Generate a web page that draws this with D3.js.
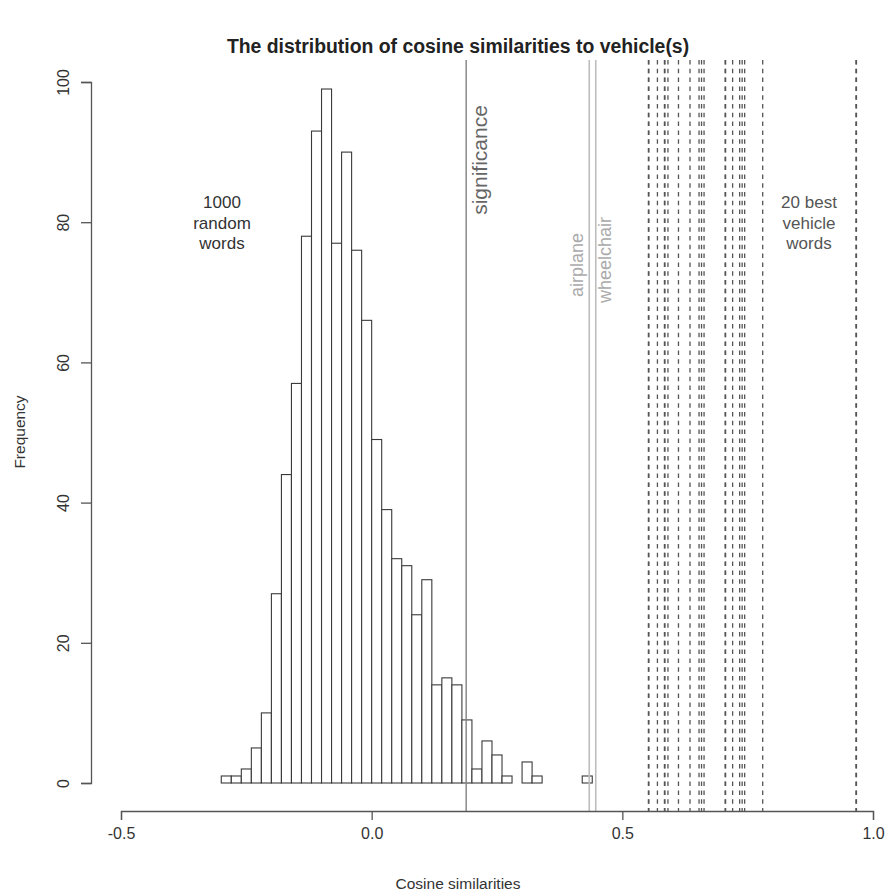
<!DOCTYPE html>
<html>
<head>
<meta charset="utf-8">
<script src="https://cdn.jsdelivr.net/npm/d3@7"></script>
<style>
  body { margin: 0; background: #fff; }
  svg { display: block; }
</style>
</head>
<body>
<svg id="svg" width="888" height="893"></svg>
<script>
// histogram of 1000 random words (bin lower edges, bin width 0.02)
const binLefts = [-0.30, -0.28, -0.26, -0.24, -0.22, -0.20, -0.18, -0.16, -0.14, -0.12,
  -0.10, -0.08, -0.06, -0.04, -0.02, 0.00, 0.02, 0.04, 0.06, 0.08,
  0.10, 0.12, 0.14, 0.16, 0.18, 0.20, 0.22, 0.24, 0.26, 0.28,
  0.30, 0.32, 0.34, 0.36, 0.38, 0.40, 0.42]
const counts = [1, 1, 2, 5, 10, 27, 44, 57, 78, 93,
  99, 77, 90, 76, 66, 49, 39, 32, 31, 24,
  29, 14, 15, 14, 9, 2, 6, 4, 1, 0,
  3, 1, 0, 0, 0, 0, 1]
const binWidth = 0.02

// reference lines
const significance = 0.1885
const namedWords = [{ name: "airplane", value: 0.434 }, { name: "wheelchair", value: 0.447 }]
const bestVehicle = [0.552, 0.553, 0.570, 0.584, 0.585, 0.591, 0.612, 0.635, 0.653, 0.658,
  0.663, 0.705, 0.706, 0.720, 0.734, 0.739, 0.744, 0.780, 0.966, 0.967]

const xTicks = [-0.5, 0.0, 0.5, 1.0]
const yTicks = [0, 20, 40, 60, 80, 100]

const svg = d3.select("#svg")
    .attr("font-family", "'Liberation Sans', Arial, sans-serif")

const x = d3.scaleLinear().domain([-0.5, 1.0]).range([121, 873])
const y = d3.scaleLinear().domain([0, 100]).range([783, 82])
const plotTop = 60, plotBottom = 811

// bars
svg.append("g").selectAll("rect")
    .data(counts)
    .enter()
    .append("rect")
    .attr("x", (d, i) => x(binLefts[i]))
    .attr("width", (d, i) => x(binLefts[i] + binWidth) - x(binLefts[i]))
    .attr("y", d => y(d))
    .attr("height", d => y(0) - y(d))
    .attr("fill", "white")
    .attr("stroke", d => d > 0 ? "#3a3a3a" : "none")
    .attr("stroke-width", 1.1)

// significance line
svg.append("line")
    .attr("x1", x(significance)).attr("x2", x(significance))
    .attr("y1", plotTop).attr("y2", plotBottom)
    .attr("stroke", "#808080").attr("stroke-width", 1.4)
svg.append("text")
    .attr("transform", `translate(${x(significance) + 21},160) rotate(-90)`)
    .attr("text-anchor", "middle")
    .attr("font-size", 21)
    .attr("fill", "#666")
    .text("significance")

// named words
const nw = svg.append("g").selectAll("g").data(namedWords).enter().append("g")
nw.append("line")
    .attr("x1", d => x(d.value)).attr("x2", d => x(d.value))
    .attr("y1", plotTop).attr("y2", plotBottom)
    .attr("stroke", "#bdbdbd").attr("stroke-width", 1.6)
nw.append("text")
    .attr("transform", (d, i) => `translate(${x(d.value) + (i == 0 ? -6 : 15)},${i == 0 ? 265 : 260}) rotate(-90)`)
    .attr("text-anchor", "middle")
    .attr("font-size", 18)
    .attr("fill", "#aaa")
    .text(d => d.name)

// best vehicle words
svg.append("g").selectAll("line")
    .data(bestVehicle)
    .enter()
    .append("line")
    .attr("x1", d => x(d)).attr("x2", d => x(d))
    .attr("y1", plotTop).attr("y2", plotBottom)
    .attr("stroke", "#555")
    .attr("stroke-width", 1.3)
    .attr("stroke-dasharray", "4.5,4.3")

// annotations
function block(lines, cx, color) {
    svg.append("g").selectAll("text")
        .data(lines)
        .enter()
        .append("text")
        .attr("x", cx)
        .attr("y", (d, i) => 208 + i * 20.5)
        .attr("text-anchor", "middle")
        .attr("font-size", 17)
        .attr("fill", color)
        .text(d => d)
}
block(["1000", "random", "words"], 222, "#333")
block(["20 best", "vehicle", "words"], 809, "#555")

// axes
const xAxis = svg.append("g").attr("transform", `translate(0,${plotBottom})`)
    .call(d3.axisBottom(x).tickValues(xTicks).tickFormat(d => d.toFixed(1)).tickSizeOuter(0).tickSize(9).tickPadding(8))
xAxis.select(".domain").attr("stroke", "#555").attr("stroke-width", 1.3)
xAxis.selectAll(".tick line").attr("stroke", "#555").attr("stroke-width", 1.3)
xAxis.selectAll("text").attr("font-size", 16).attr("fill", "#333").attr("font-family", null)

const yAxis = svg.append("g").attr("transform", "translate(91,0)")
    .call(d3.axisLeft(y).tickValues(yTicks).tickSizeOuter(0).tickSize(10))
yAxis.select(".domain").attr("stroke", "#555").attr("stroke-width", 1.3)
yAxis.selectAll(".tick line").attr("stroke", "#555").attr("stroke-width", 1.3)
yAxis.selectAll("text")
    .attr("font-size", 16).attr("fill", "#333").attr("font-family", null)
    .attr("x", null)
    .attr("text-anchor", "middle")
    .attr("transform", "translate(-28,0) rotate(-90)")
    .attr("y", 0)
    .attr("dy", "0.35em")

// titles
svg.append("text")
    .attr("x", 458).attr("y", 53)
    .attr("text-anchor", "middle")
    .attr("font-size", 19.4).attr("font-weight", "bold")
    .attr("fill", "#222")
    .text("The distribution of cosine similarities to vehicle(s)")
svg.append("text")
    .attr("x", 458).attr("y", 889)
    .attr("text-anchor", "middle")
    .attr("font-size", 15.5).attr("fill", "#333")
    .text("Cosine similarities")
svg.append("text")
    .attr("transform", "translate(25,432) rotate(-90)")
    .attr("text-anchor", "middle")
    .attr("font-size", 15.5).attr("fill", "#333")
    .text("Frequency")
</script>
</body>
</html>
